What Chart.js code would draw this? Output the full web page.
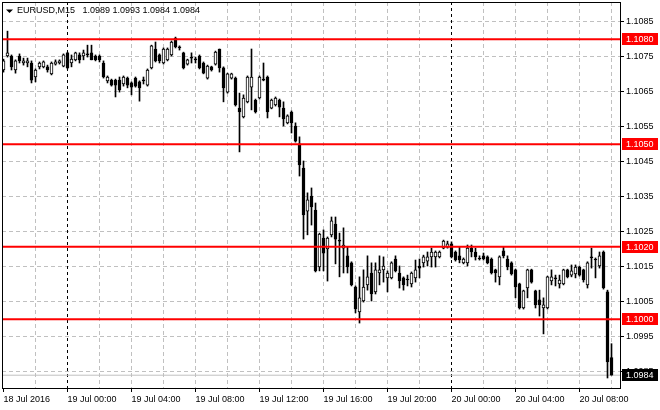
<!DOCTYPE html>
<html>
<head>
<meta charset="utf-8">
<script src="https://cdn.jsdelivr.net/npm/chart.js@4/dist/chart.umd.min.js"></script>
<style>
  html, body { margin: 0; padding: 0; background: #fff; }
  #wrap { width: 660px; height: 410px; }
</style>
</head>
<body>
<div id="wrap"><canvas id="chart" width="660" height="410"></canvas></div>
<script>
const symbol = 'EURUSD,M15';

// EURUSD M15, 18 Jul 20:00 -> 20 Jul 09:00
const opens = [
  1.10712, 1.10752, 1.10752, 1.10712, 1.10752, 1.10732, 1.10732, 1.10732, 1.10692, 1.10721,
  1.10721, 1.10721, 1.10701, 1.10729, 1.10732, 1.10723, 1.10761, 1.10732, 1.10741, 1.10755,
  1.10752, 1.10755, 1.10761, 1.10752, 1.10752, 1.10732, 1.10681, 1.10683, 1.10683, 1.10683,
  1.10672, 1.10689, 1.10675, 1.10689, 1.10678, 1.10681, 1.10669, 1.10718, 1.10772, 1.10755,
  1.10732, 1.10741, 1.10755, 1.10803, 1.10775, 1.10761, 1.10729, 1.10746, 1.10741, 1.10752,
  1.10732, 1.10689, 1.10721, 1.10729, 1.10772, 1.10718, 1.10649, 1.10689, 1.10689, 1.10603,
  1.10578, 1.10621, 1.10663, 1.10626, 1.10632, 1.10683, 1.10692, 1.10603, 1.10612, 1.10626,
  1.10603, 1.10561, 1.10592, 1.10552, 1.10501, 1.10432, 1.10309, 1.10352, 1.10312, 1.10149,
  1.10232, 1.10201, 1.10241, 1.10272, 1.10223, 1.10203, 1.10181, 1.10161, 1.10092, 1.10021,
  1.10052, 1.10098, 1.10132, 1.10078, 1.10132, 1.10141, 1.10118, 1.10118, 1.10172, 1.10132,
  1.10118, 1.10112, 1.10101, 1.10118, 1.10152, 1.10161, 1.10166, 1.10178, 1.10178, 1.10178,
  1.10203, 1.10206, 1.10215, 1.10192, 1.10181, 1.10161, 1.10161, 1.10203, 1.10192, 1.10172,
  1.10181, 1.10178, 1.10172, 1.10141, 1.10121, 1.10195, 1.10172, 1.10161, 1.10141, 1.10101,
  1.10032, 1.10089, 1.10141, 1.10081, 1.10055, 1.10032, 1.10032, 1.10109, 1.10115, 1.10101,
  1.10101, 1.10141, 1.10126, 1.10129, 1.10149, 1.10141, 1.10098, 1.10175, 1.10169, 1.10152,
  1.10192, 1.10078, 1.0989
];
const highs = [
  1.10743, 1.10823, 1.10755, 1.10741, 1.10758, 1.10746, 1.10746, 1.10738, 1.10715, 1.10735,
  1.10738, 1.10726, 1.10735, 1.10741, 1.10741, 1.10758, 1.10763, 1.10755, 1.10763, 1.10761,
  1.10769, 1.10783, 1.10783, 1.10755, 1.10755, 1.10738, 1.10695, 1.10686, 1.10686, 1.10692,
  1.10695, 1.10692, 1.10678, 1.10692, 1.10681, 1.10692, 1.10715, 1.10783, 1.10792, 1.10758,
  1.10775, 1.10775, 1.10795, 1.10806, 1.10781, 1.10763, 1.10743, 1.10761, 1.10749, 1.10755,
  1.10735, 1.10726, 1.10723, 1.10766, 1.10772, 1.10721, 1.10703, 1.10703, 1.10692, 1.10646,
  1.10641, 1.10695, 1.10772, 1.10629, 1.10695, 1.10732, 1.10695, 1.10629, 1.10635, 1.10629,
  1.10621, 1.10584, 1.10595, 1.10561, 1.10521, 1.10452, 1.10361, 1.10375, 1.10332, 1.10246,
  1.10255, 1.10235, 1.10292, 1.10292, 1.10246, 1.10261, 1.10206, 1.10164, 1.10095, 1.10121,
  1.10141, 1.10181, 1.10161, 1.10161, 1.10181, 1.10178, 1.10138, 1.10164, 1.10181, 1.10152,
  1.10121, 1.10126, 1.10135, 1.10169, 1.10172, 1.10183, 1.10192, 1.10203, 1.10195, 1.10195,
  1.10226, 1.10223, 1.10221, 1.10195, 1.10206, 1.10175, 1.10212, 1.10212, 1.10203, 1.10181,
  1.10189, 1.10181, 1.10175, 1.10143, 1.10181, 1.10206, 1.10181, 1.10164, 1.10143, 1.10103,
  1.10083, 1.10143, 1.10143, 1.10083, 1.10083, 1.10061, 1.10123, 1.10141, 1.10126, 1.10126,
  1.10143, 1.10143, 1.10155, 1.10155, 1.10152, 1.10143, 1.10164, 1.10203, 1.10175, 1.10192,
  1.10195, 1.10083, 1.0993
];
const lows = [
  1.10706, 1.10749, 1.10712, 1.10703, 1.10732, 1.10726, 1.10721, 1.10675, 1.10678, 1.10715,
  1.10718, 1.10706, 1.10698, 1.10726, 1.10729, 1.10721, 1.10715, 1.10721, 1.10738, 1.10732,
  1.10741, 1.10749, 1.10741, 1.10738, 1.10735, 1.10689, 1.10675, 1.10666, 1.10635, 1.10649,
  1.10666, 1.10661, 1.10641, 1.10663, 1.10623, 1.10672, 1.10666, 1.10715, 1.10735, 1.10732,
  1.10729, 1.10738, 1.10752, 1.10775, 1.10769, 1.10715, 1.10726, 1.10732, 1.10732, 1.10715,
  1.10701, 1.10686, 1.10709, 1.10726, 1.10706, 1.10621, 1.10646, 1.10686, 1.10609, 1.10478,
  1.10575, 1.10618, 1.10598, 1.10589, 1.10629, 1.10681, 1.10575, 1.10601, 1.10609, 1.10578,
  1.10552, 1.10558, 1.10532, 1.10506, 1.10409, 1.10229, 1.10241, 1.10269, 1.10135, 1.10138,
  1.10138, 1.10109, 1.10235, 1.10158, 1.10121, 1.10132, 1.10132, 1.10095, 1.10018, 1.09989,
  1.10049, 1.10083, 1.10052, 1.10072, 1.10098, 1.10106, 1.10078, 1.10115, 1.10135, 1.10089,
  1.10083, 1.10095, 1.10092, 1.10106, 1.10118, 1.10149, 1.10152, 1.10149, 1.10149, 1.10175,
  1.10201, 1.10203, 1.10175, 1.10166, 1.10161, 1.10158, 1.10152, 1.10178, 1.10169, 1.10169,
  1.10169, 1.10158, 1.10129, 1.10106, 1.10098, 1.10175, 1.10141, 1.10126, 1.10061, 1.10029,
  1.10029, 1.10061, 1.10103, 1.10032, 1.10009, 1.09958, 1.10029, 1.10098, 1.10095, 1.10089,
  1.10098, 1.10118, 1.10121, 1.10118, 1.10123, 1.10106, 1.10089, 1.10146, 1.10118, 1.10146,
  1.10086, 1.09832, 1.0984
];
const closes = [
  1.10738, 1.10761, 1.10721, 1.10738, 1.10738, 1.10738, 1.10738, 1.10683, 1.10712, 1.10732,
  1.10735, 1.10712, 1.10732, 1.10735, 1.10738, 1.10755, 1.10718, 1.10743, 1.10761, 1.10741,
  1.10761, 1.10756, 1.10741, 1.10741, 1.10741, 1.10692, 1.10692, 1.10669, 1.10669, 1.10655,
  1.10692, 1.10669, 1.10663, 1.10666, 1.10661, 1.10682, 1.10712, 1.10781, 1.10738, 1.10738,
  1.10772, 1.10772, 1.10792, 1.10778, 1.10776, 1.10718, 1.10741, 1.10747, 1.10742, 1.10718,
  1.10703, 1.10723, 1.10712, 1.10763, 1.10718, 1.10661, 1.10701, 1.10701, 1.10612, 1.10592,
  1.10632, 1.10692, 1.10692, 1.10592, 1.10692, 1.10684, 1.10592, 1.10626, 1.10632, 1.10606,
  1.10572, 1.10581, 1.10561, 1.10509, 1.10441, 1.10298, 1.10341, 1.10321, 1.10138, 1.10243,
  1.10189, 1.10232, 1.10281, 1.10229, 1.10224, 1.10212, 1.10149, 1.10098, 1.10029, 1.10061,
  1.10092, 1.10121, 1.10072, 1.10141, 1.10141, 1.10152, 1.10132, 1.10161, 1.10138, 1.10109,
  1.10098, 1.10113, 1.10132, 1.10141, 1.10146, 1.10178, 1.10178, 1.10192, 1.10192, 1.10192,
  1.10223, 1.10215, 1.10178, 1.10169, 1.10169, 1.10172, 1.10203, 1.10192, 1.10178, 1.10173,
  1.10172, 1.10161, 1.10132, 1.10132, 1.10178, 1.10181, 1.10149, 1.10129, 1.10092, 1.10032,
  1.10081, 1.10141, 1.10106, 1.10041, 1.10041, 1.10041, 1.10121, 1.10121, 1.10116, 1.10112,
  1.10141, 1.10121, 1.10138, 1.10149, 1.10126, 1.10112, 1.10161, 1.10176, 1.10170, 1.10181,
  1.10089, 1.09878, 1.0984
];

const gridBars = [0, 8, 16, 24, 32, 40, 48, 56, 64, 72, 80, 88, 96, 104, 112, 120, 128, 136, 144, 152];
const labelBars = [0, 16, 32, 48, 64, 80, 96, 112, 128, 144];
const timeLabels = ['18 Jul 2016', '19 Jul 00:00', '19 Jul 04:00', '19 Jul 08:00', '19 Jul 12:00',
  '19 Jul 16:00', '19 Jul 20:00', '20 Jul 00:00', '20 Jul 04:00', '20 Jul 08:00'];
const separatorBars = [16, 112];
const priceTicks = [1.0985, 1.0995, 1.1005, 1.1015, 1.1025, 1.1035, 1.1045, 1.1055, 1.1065, 1.1075, 1.1085];
const levels = [1.1080, 1.1050, 1.10207, 1.1000];
const levelLabels = ['1.1080', '1.1050', '1.1020', '1.1000'];
const lastPrice = 1.0984;

const X_MIN = -0.375, X_MAX = 154.125;
const FONT = { family: "'Liberation Sans', Arial, sans-serif", size: 9 };
const TITLE_FONT = "9px 'Liberation Sans', Arial, sans-serif";

const idx = opens.map((_, i) => i);
const bodies = idx.map(i => ({ x: i, y: [Math.min(opens[i], closes[i]), Math.max(opens[i], closes[i])] }));
const wicks = idx.map(i => ({ x: i, y: [lows[i], highs[i]] }));
const bodyFill = idx.map(i => (closes[i] - opens[i] > 0.00003 ? '#ffffff' : '#000000'));

const levelSets = levels.map(lv => ({
    type: 'line',
    data: [{ x: X_MIN, y: lv }, { x: X_MAX, y: lv }],
    borderColor: '#ff0000',
    borderWidth: 2,
    pointRadius: 0,
    order: 0
}));

const overlay = {
    id: 'overlay',
    beforeDatasetsDraw(chart) {
        const { ctx, chartArea: a, scales } = chart;
        ctx.save();
        ctx.strokeStyle = '#000';
        ctx.lineWidth = 1;
        ctx.setLineDash([3, 3]);
        separatorBars.forEach(b => {
            const x = Math.floor(scales.x.getPixelForValue(b)) + 0.5;
            ctx.beginPath();
            ctx.moveTo(x, a.top);
            ctx.lineTo(x, a.bottom);
            ctx.stroke();
        });
        ctx.restore();
    },
    afterDraw(chart) {
        const { ctx, chartArea: a, scales } = chart;
        ctx.save();
        // frame
        ctx.strokeStyle = '#000';
        ctx.lineWidth = 1;
        ctx.strokeRect(Math.floor(a.left) + 0.5, Math.floor(a.top) + 0.5,
            Math.round(a.right - a.left), Math.round(a.bottom - a.top));

        // price boxes on the right axis
        ctx.font = FONT.size + 'px ' + FONT.family;
        ctx.textBaseline = 'middle';
        ctx.textAlign = 'left';
        const box = (val, text, bg) => {
            const y = Math.round(scales.y.getPixelForValue(val));
            ctx.fillStyle = bg;
            ctx.fillRect(a.right + 2, y - 6, 36, 12);
            ctx.fillStyle = '#fff';
            ctx.fillText(text, a.right + 6, y + 0.5);
        };
        levels.forEach((lv, k) => box(lv, levelLabels[k], '#ff0000'));
        box(lastPrice, lastPrice.toFixed(4), '#000000');

        // symbol header
        const n = opens.length - 1;
        ctx.fillStyle = '#000';
        ctx.beginPath();
        ctx.moveTo(6, 9.5);
        ctx.lineTo(13, 9.5);
        ctx.lineTo(9.5, 13);
        ctx.closePath();
        ctx.fill();
        ctx.font = TITLE_FONT;
        ctx.fillText(symbol + '   ' + [opens[n], highs[n], lows[n], closes[n]].map(v => v.toFixed(4)).join(' '), 17, 11);
        ctx.restore();
    }
};

new Chart(document.getElementById('chart'), {
    type: 'bar',
    data: {
        datasets: [
            ...levelSets,
            {
                type: 'bar',
                data: bodies,
                backgroundColor: bodyFill,
                borderColor: '#000',
                borderWidth: 1,
                borderSkipped: false,
                barThickness: 3,
                minBarLength: 1,
                grouped: false,
                order: 1
            },
            {
                type: 'bar',
                data: wicks,
                backgroundColor: '#000',
                barThickness: 1,
                grouped: false,
                order: 2
            },
            {
                type: 'line',
                data: [{ x: X_MIN, y: lastPrice }, { x: X_MAX, y: lastPrice }],
                borderColor: '#c0c0c0',
                borderWidth: 1,
                pointRadius: 0,
                order: 3
            }
        ]
    },
    options: {
        responsive: false,
        animation: false,
        devicePixelRatio: 1,
        layout: { padding: { left: 2, top: 2, right: 0, bottom: 0 } },
        plugins: { legend: { display: false }, tooltip: { enabled: false } },
        scales: {
            x: {
                type: 'linear',
                offset: false,
                min: X_MIN,
                max: X_MAX,
                afterBuildTicks: s => { s.ticks = gridBars.map(v => ({ value: v })); },
                afterFit: s => { s.height = 22; s.paddingLeft = 0; s.paddingRight = 0; },
                ticks: {
                    autoSkip: false,
                    maxRotation: 0,
                    align: 'start',
                    padding: 2,
                    color: '#000',
                    font: FONT,
                    callback: v => { const k = labelBars.indexOf(v); return k >= 0 ? timeLabels[k] : ''; }
                },
                grid: {
                    offset: false,
                    color: c => (c.tick && (c.tick.value === 0 || separatorBars.includes(c.tick.value)) ? 'rgba(0,0,0,0)' : '#c0c0c0'),
                    tickColor: c => (c.tick && labelBars.includes(c.tick.value) ? '#000' : 'rgba(0,0,0,0)'),
                    tickLength: 4
                },
                border: { display: false, dash: [4, 3] }
            },
            y: {
                position: 'right',
                min: 1.098034,
                max: 1.109063,
                afterBuildTicks: s => { s.ticks = priceTicks.map(v => ({ value: v })); },
                afterFit: s => { s.width = 40; s.paddingTop = 0; s.paddingBottom = 0; },
                ticks: {
                    autoSkip: false,
                    padding: 2,
                    color: '#000',
                    font: FONT,
                    callback: v => v.toFixed(4)
                },
                grid: { color: '#c0c0c0', tickColor: '#000', tickLength: 4 },
                border: { display: false, dash: [4, 3] }
            }
        }
    },
    plugins: [overlay]
});
</script>
</body>
</html>
